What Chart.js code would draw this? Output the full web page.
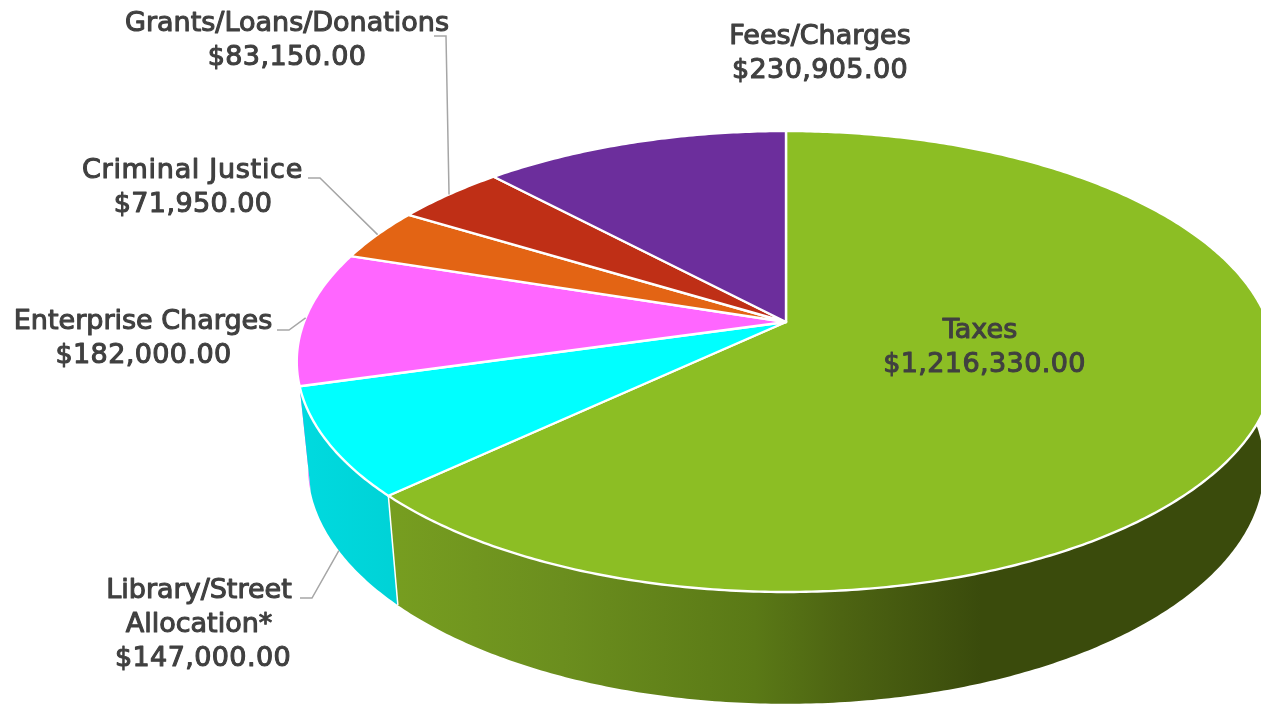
<!DOCTYPE html>
<html>
<head>
<meta charset="utf-8">
<style>
  html, body { margin: 0; padding: 0; background: #fff; overflow: hidden; }
  canvas { display: block; }
</style>
<script src="https://cdn.jsdelivr.net/npm/chart.js@4/dist/chart.umd.min.js"></script>
</head>
<body>
<canvas id="pie" width="1261" height="704"></canvas>
<script>
// ─── Data ─────────────────────────────────────────────────────
const categories = ['Taxes', 'Library/Street Allocation*', 'Enterprise Charges', 'Criminal Justice', 'Grants/Loans/Donations', 'Fees/Charges'];
const amounts    = [1216330, 147000, 182000, 71950, 83150, 230905];
const topColors  = ['#8CBE24', '#00FFFF', '#FF66FF', '#E36414', '#BF2F16', '#6C2E9C'];

// ─── Layout ───────────────────────────────────────────────────
// perspective discs: top face and bottom face of the pie
const topDisc    = { cx: 786, apexY: 322, a: 482, b: 223.7, k: 0.1714 };
const bottomDisc = { cx: 786, apexY: 426.7, a: 471, b: 230, k: 0.17 };

// label blocks, same order as categories
const labelLayout = [
  { lines: ['Taxes'], x: 980, valueX: 984.5, y: 338 },
  { lines: ['Library/Street', 'Allocation*'], x: 199, valueX: 203, y: 598, elbow: [[300, 598], [312, 598]], onBottom: true },
  { lines: ['Enterprise Charges'], x: 143, valueX: 143.5, y: 329, elbow: [[277, 330], [289, 330]] },
  { lines: ['Criminal Justice'], x: 192.5, valueX: 193, y: 178, spacing: '0.7px', elbow: [[308, 178], [320, 178]] },
  { lines: ['Grants/Loans/Donations'], x: 287, valueX: 287, y: 31, elbow: [[434, 36], [446, 36]] },
  { lines: ['Fees/Charges'], x: 820, valueX: 820, y: 44 },
];
const LINE_H = 34;
const LABEL_FONT = '27px "DejaVu Sans"';

function formatMoney(v) {
  return '$' + v.toLocaleString('en-US', { minimumFractionDigits: 2, maximumFractionDigits: 2 });
}

// angle from Chart.js (0 = 3 o'clock, clockwise) onto a disc
function project(disc, angle) {
  const u = Math.cos(angle);
  const v = Math.sin(angle);
  const w = 1 - disc.k * v;
  return [disc.cx + disc.a * u / w, disc.apexY + disc.b * v / w];
}

function wallFill(ctx, i) {
  if (i === 1) {
    const g = ctx.createLinearGradient(300, 0, 400, 0);
    g.addColorStop(0, '#00DADF');
    g.addColorStop(1, '#00D2D6');
    return g;
  }
  if (i !== 0) return topColors[i];
  const g = ctx.createLinearGradient(388, 0, 1261, 0);
  g.addColorStop(0, '#779E20');
  g.addColorStop(0.2, '#6B8E1E');
  g.addColorStop(0.42, '#5A7916');
  g.addColorStop(0.52, '#4D6412');
  g.addColorStop(0.68, '#3A4B0C');
  g.addColorStop(1, '#3A4B0C');
  return g;
}

function arcPoints(disc, start, end) {
  const steps = Math.max(2, Math.ceil((end - start) / 0.01));
  const pts = [];
  for (let s = 0; s <= steps; s++) pts.push(project(disc, start + (end - start) * s / steps));
  return pts;
}

function tracePoints(ctx, pts) {
  pts.forEach((p, i) => (i ? ctx.lineTo(p[0], p[1]) : ctx.moveTo(p[0], p[1])));
}

function drawLabelLine(ctx, text, x, y) {
  ctx.fillText(text, x, y);
  ctx.strokeText(text, x, y);
}

// ─── Plugin: draws the Chart.js arcs as a tilted 3D pie ───────
const pie3d = {
  id: 'pie3d',
  beforeDatasetsDraw(chart) {
    const ctx = chart.ctx;
    const arcs = chart.getDatasetMeta(0).data;
    ctx.save();

    // side walls, back slices first
    [5, 4, 3, 2, 1, 0].forEach(i => {
      const top = arcPoints(topDisc, arcs[i].startAngle, arcs[i].endAngle);
      const bottom = arcPoints(bottomDisc, arcs[i].startAngle, arcs[i].endAngle);
      ctx.beginPath();
      tracePoints(ctx, top.concat(bottom.reverse()));
      ctx.closePath();
      ctx.fillStyle = wallFill(ctx, i);
      ctx.fill();
    });

    // white seam between the two visible walls
    const seam = arcs[0].endAngle;
    ctx.beginPath();
    tracePoints(ctx, [project(topDisc, seam), project(bottomDisc, seam)]);
    ctx.strokeStyle = '#fff';
    ctx.lineWidth = 1.5;
    ctx.stroke();

    // top faces
    arcs.forEach((arc, i) => {
      const apex = [topDisc.cx, topDisc.apexY];
      ctx.beginPath();
      tracePoints(ctx, [apex].concat(arcPoints(topDisc, arc.startAngle, arc.endAngle)));
      ctx.closePath();
      ctx.fillStyle = topColors[i];
      ctx.fill();
      ctx.strokeStyle = '#fff';
      ctx.lineWidth = 2.4;
      ctx.lineJoin = 'round';
      ctx.stroke();
    });

    ctx.restore();
    return false;
  },
  afterDraw(chart) {
    const ctx = chart.ctx;
    const arcs = chart.getDatasetMeta(0).data;
    ctx.save();

    // leader lines
    labelLayout.forEach((lab, i) => {
      if (!lab.elbow) return;
      const mid = (arcs[i].startAngle + arcs[i].endAngle) / 2;
      const end = project(lab.onBottom ? bottomDisc : topDisc, mid);
      ctx.beginPath();
      tracePoints(ctx, lab.elbow.concat([end]));
      ctx.strokeStyle = '#A6A6A6';
      ctx.lineWidth = 1.5;
      ctx.stroke();
    });

    // labels, thin stroke to get the medium weight of the original
    ctx.font = LABEL_FONT;
    ctx.fillStyle = '#404040';
    ctx.strokeStyle = '#404040';
    ctx.lineWidth = 1.1;
    ctx.lineJoin = 'round';
    ctx.textAlign = 'center';
    ctx.textBaseline = 'alphabetic';
    labelLayout.forEach((lab, i) => {
      ctx.letterSpacing = lab.spacing || '0px';
      lab.lines.forEach((t, n) => drawLabelLine(ctx, t, lab.x, lab.y + n * LINE_H));
      ctx.letterSpacing = '0.4px';
      drawLabelLine(ctx, formatMoney(amounts[i]), lab.valueX, lab.y + lab.lines.length * LINE_H);
    });
    ctx.restore();
  },
};

new Chart(document.getElementById('pie'), {
  type: 'pie',
  data: {
    labels: categories,
    datasets: [{ data: amounts, backgroundColor: topColors, borderColor: '#fff', borderWidth: 2 }],
  },
  options: {
    responsive: false,
    animation: false,
    events: [],
    plugins: { legend: { display: false }, tooltip: { enabled: false } },
  },
  plugins: [pie3d],
});
</script>
</body>
</html>
